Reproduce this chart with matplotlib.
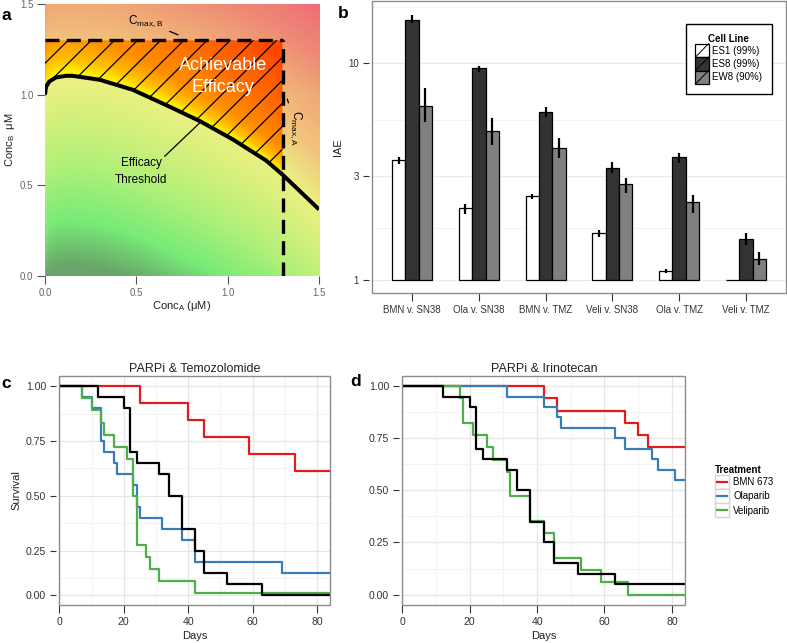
import matplotlib
matplotlib.use("Agg")
import matplotlib.pyplot as plt
import numpy as np
from matplotlib.colors import LinearSegmentedColormap
from matplotlib.legend_handler import HandlerLine2D, HandlerPatch
from matplotlib.lines import Line2D
from matplotlib.patches import Patch, Polygon, Rectangle

plt.rcParams["font.family"] = ["Liberation Sans", "DejaVu Sans"]

# ---- panel a: efficacy schematic ----
THRESH_X = [0.0, 0.005, 0.024, 0.06, 0.115, 0.15, 0.30, 0.48, 0.66, 0.85, 1.03, 1.21, 1.30, 1.50]
THRESH_Y = [1.0, 1.042, 1.073, 1.095, 1.104, 1.104, 1.082, 1.027, 0.944, 0.853, 0.752, 0.637, 0.559, 0.367]
CMAX_A = 1.3
CMAX_B = 1.3
# background colours by distance from the threshold curve
OUTER_LEVELS = [-1.05, -0.8, -0.5, -0.2, 0.0, 0.3, 0.6, 0.9, 1.3]
OUTER_COLORS = ["#69a569", "#78eb78", "#aff078", "#d7f07d", "#ebf082", "#f2c47e", "#f0aa76", "#ee8c76", "#f06e76"]
# saturated colours inside the achievable region
INNER_LEVELS = [0.0, 0.1, 0.25, 0.6, 1.3]
INNER_COLORS = ["#ffff00", "#ffc000", "#ff9000", "#ff7000", "#ff4600"]

# ---- panel b: IAE bars ----
PAIRS = ["BMN v. SN38", "Ola v. SN38", "BMN v. TMZ", "Veli v. SN38", "Ola v. TMZ", "Veli v. TMZ"]
CELL_LINES = ["ES1 (99%)", "ES8 (99%)", "EW8 (90%)"]
CELL_COLORS = ["white", "#333333", "#808080"]
ES1 = [3.59, 2.15, 2.44, 1.64, 1.10, 1.0]
ES1_LO = [3.41, 2.01, 2.36, 1.57, 1.07, np.nan]
ES1_HI = [3.68, 2.23, 2.50, 1.70, 1.12, np.nan]
ES8 = [15.8, 9.48, 5.96, 3.28, 3.68, 1.535]
ES8_LO = [15.3, 9.09, 5.63, 3.10, 3.45, 1.44]
ES8_HI = [16.8, 9.72, 6.31, 3.49, 3.86, 1.64]
EW8 = [6.38, 4.89, 4.05, 2.77, 2.28, 1.25]
EW8_LO = [5.34, 4.21, 3.64, 2.52, 2.04, 1.17]
EW8_HI = [7.69, 5.59, 4.52, 2.94, 2.45, 1.34]

# ---- panels c/d: survival ----
TREATMENTS = ["BMN 673", "Olaparib", "Veliparib"]
TREAT_COLORS = ["#e41a1c", "#377eb8", "#4daf4a"]

CTRL_DAYS = [0, 12, 20, 22, 24, 31, 34, 38, 42, 45, 52, 63, 84]
CTRL_SURV = [1, 0.95, 0.90, 0.70, 0.65, 0.60, 0.50, 0.35, 0.25, 0.15, 0.10, 0.05, 0.05]

TMZ_BMN_DAYS = [0, 25, 40, 45, 59, 73, 84]
TMZ_BMN_SURV = [1, 0.923, 0.846, 0.769, 0.692, 0.615, 0.615]
TMZ_OLA_DAYS = [0, 7, 10, 13, 14, 17, 18, 23, 24, 25, 32, 38, 42, 69, 84]
TMZ_OLA_SURV = [1, 0.95, 0.90, 0.75, 0.70, 0.65, 0.60, 0.55, 0.45, 0.40, 0.35, 0.30, 0.20, 0.15, 0.15]
TMZ_VELI_DAYS = [0, 7, 10, 13, 14, 17, 21, 23, 24, 27, 28, 31, 42, 84]
TMZ_VELI_SURV = [1, 0.944, 0.889, 0.833, 0.778, 0.722, 0.667, 0.5, 0.278, 0.222, 0.167, 0.111, 0.056, 0.056]

IRI_BMN_DAYS = [0, 42, 46, 66, 70, 73, 84]
IRI_BMN_SURV = [1, 0.941, 0.882, 0.824, 0.765, 0.706, 0.706]
IRI_OLA_DAYS = [0, 31, 42, 46, 47, 63, 66, 74, 76, 81, 84]
IRI_OLA_SURV = [1, 0.95, 0.90, 0.85, 0.80, 0.75, 0.70, 0.65, 0.60, 0.55, 0.55]
IRI_VELI_DAYS = [0, 17, 18, 21, 25, 27, 31, 32, 38, 42, 45, 53, 59, 67, 84]
IRI_VELI_SURV = [1, 0.941, 0.824, 0.765, 0.706, 0.647, 0.588, 0.471, 0.353, 0.294, 0.176, 0.118, 0.059, 0.0, 0.0]

DAY_TICKS = [0, 20, 40, 60, 80]
DAY_MINOR = [10, 30, 50, 70]
# the printed panel c labels its lowest tick "0.00" although it sits at the 0.05 level
C_YTICKS = [0.05, 0.25, 0.50, 0.75, 1.00]
D_YTICKS = [0.0, 0.25, 0.50, 0.75, 1.00]
SURV_LABELS = ["0.00", "0.25", "0.50", "0.75", "1.00"]
SURV_MINOR = [0.125, 0.375, 0.625, 0.875]

TEXT = "#333333"
FRAME = "#8c8c8c"


class SlashPatch(HandlerPatch):
    def create_artists(self, legend, orig_handle, xdescent, ydescent, width, height, fontsize, trans):
        box = Rectangle((-xdescent, -ydescent), width, height, facecolor=orig_handle.get_facecolor(),
                        edgecolor="black", lw=0.9, transform=trans)
        slash = Line2D([-xdescent, -xdescent + width], [-ydescent, -ydescent + height],
                       color="black", lw=0.7, transform=trans)
        return [box, slash]


class BoxedLine(HandlerLine2D):
    def create_artists(self, legend, orig_handle, xdescent, ydescent, width, height, fontsize, trans):
        box = Rectangle((-xdescent, -ydescent), width, height, facecolor="white",
                        edgecolor="#d4d4d4", lw=1.0, transform=trans)
        mid = -ydescent + height / 2
        line = Line2D([-xdescent + 0.15 * width, -xdescent + 0.85 * width], [mid, mid],
                      color=orig_handle.get_color(), lw=1.6, transform=trans)
        return [box, line]


def level_cmap(levels, colors):
    levels = np.asarray(levels, dtype=float)
    pos = (levels - levels[0]) / (levels[-1] - levels[0])
    cmap = LinearSegmentedColormap.from_list("lv", list(zip(pos, colors)))
    return lambda v: cmap(np.clip((v - levels[0]) / (levels[-1] - levels[0]), 0, 1))[..., :3]


def ggplot_frame(ax, labelsize=7):
    for spine in ax.spines.values():
        spine.set_color("none")
    ax.spines["left"].set_position(("outward", 2.5))
    ax.add_patch(Rectangle((0, 0), 1, 1, transform=ax.transAxes, fill=False,
                           edgecolor=FRAME, lw=1.0, clip_on=False, zorder=5))
    ax.tick_params(axis="x", which="major", direction="out", length=5.5, width=0.8,
                   color=TEXT, labelsize=labelsize, labelcolor=TEXT, pad=3)
    ax.tick_params(axis="y", which="major", direction="out", length=4.5, width=0.8,
                   color=TEXT, labelsize=labelsize, labelcolor=TEXT, pad=2.5)
    ax.tick_params(which="minor", length=0)
    ax.set_axisbelow(True)


def draw_panel_a(fig):
    ax = fig.add_axes([0.0572, 0.5708, 0.3482, 0.4230])
    grid = np.linspace(0, 1.5, 400)
    X, Y = np.meshgrid(grid, grid)
    dist = Y - np.interp(X, THRESH_X, THRESH_Y)
    outer = level_cmap(OUTER_LEVELS, OUTER_COLORS)(dist + 0.4 * np.clip(Y - 1.0, 0, None))
    inner = level_cmap(INNER_LEVELS, INNER_COLORS)(dist * (1 + 0.8 * X))

    ax.imshow(outer, extent=(0, 1.5, 0, 1.5), origin="lower", aspect="auto", zorder=0)

    tx = np.array(THRESH_X)
    ty = np.array(THRESH_Y)
    keep = tx <= CMAX_A
    verts = list(zip(tx[keep], ty[keep])) + [(CMAX_A, CMAX_B), (0, CMAX_B)]
    region = Polygon(verts, closed=True, facecolor="none", edgecolor="none")
    ax.add_patch(region)
    im = ax.imshow(inner, extent=(0, 1.5, 0, 1.5), origin="lower", aspect="auto", zorder=1)
    im.set_clip_path(region)

    for c in np.arange(1.173, -0.8, -0.1267):
        (ln,) = ax.plot([0, CMAX_A], [c, CMAX_A + c], color="black", lw=0.9, zorder=2)
        ln.set_clip_path(region)

    ax.plot(THRESH_X, THRESH_Y, color="black", lw=2.9, zorder=3, solid_capstyle="butt")
    ax.plot([0, CMAX_A], [CMAX_B, CMAX_B], color="black", lw=2.4, dashes=(4.2, 2.2), zorder=3)
    ax.plot([CMAX_A, CMAX_A], [0, CMAX_B], color="black", lw=2.4, dashes=(4.2, 2.2), zorder=3)

    ax.text(0.975, 1.10, "Achievable\nEfficacy", color="white", fontsize=13,
            ha="center", va="center", linespacing=1.35, zorder=4)
    ax.text(0.527, 0.575, "Efficacy\nThreshold", ha="center", va="center",
            fontsize=8.5, linespacing=1.5, zorder=4)
    ax.annotate("", xy=(0.856, 0.853), xytext=(0.655, 0.66), zorder=4,
                arrowprops=dict(arrowstyle="-", color="black", lw=0.9, shrinkA=0, shrinkB=0))
    ax.annotate(r"C$_\mathregular{max,B}$", xy=(0.728, 1.33), xytext=(0.55, 1.405),
                ha="center", va="center", fontsize=8.5, zorder=4,
                arrowprops=dict(arrowstyle="-", color="black", lw=0.9, shrinkA=3, shrinkB=0))
    ax.annotate(r"C$_\mathregular{max,A}$", xy=(1.326, 0.976), xytext=(1.375, 0.82),
                ha="center", va="center", fontsize=8.5, rotation=-90, zorder=4,
                arrowprops=dict(arrowstyle="-", color="black", lw=0.9, shrinkA=3, shrinkB=0))

    ax.set_xlim(0, 1.5)
    ax.set_ylim(0, 1.5)
    ticks = [0.0, 0.5, 1.0, 1.5]
    ax.set_xticks(ticks, [f"{t:.1f}" for t in ticks])
    ax.set_yticks(ticks, [f"{t:.1f}" for t in ticks])
    for spine in ax.spines.values():
        spine.set_visible(False)
    ax.tick_params(direction="out", length=5.5, width=0.8, color="#555555",
                   labelsize=7, labelcolor="#666666", pad=3)
    ax.set_xlabel(r"Conc$_\mathregular{A}$ (μM)", fontsize=8, color="#222222", labelpad=1)
    ax.set_ylabel(r"Conc$_\mathregular{B}$  μM", fontsize=8, color="#222222", labelpad=2)


def draw_panel_b(fig):
    ax = fig.add_axes([0.4727, 0.5443, 0.5260, 0.4541])
    x = np.arange(len(PAIRS)) + 1
    width = 0.2
    series = [(ES1, ES1_LO, ES1_HI), (ES8, ES8_LO, ES8_HI), (EW8, EW8_LO, EW8_HI)]
    for k, (vals, lo, hi) in enumerate(series):
        xs = x + (k - 1) * width
        ax.bar(xs, np.array(vals) - 1, bottom=1, width=width, color=CELL_COLORS[k],
               edgecolor="black", lw=0.9, zorder=2)
        ax.vlines(xs, lo, hi, color="black", lw=1.6, zorder=3)

    ax.set_yscale("log")
    ax.set_ylim(0.868, 19.4)
    ax.set_xlim(0.4, 6.6)
    ax.set_yticks([1, 3, 10], ["1", "3", "10"])
    ax.set_yticks([3 ** 0.5, 30 ** 0.5, 10 * (10 / 3) ** 0.5], minor=True)
    ax.yaxis.set_minor_formatter(plt.NullFormatter())
    ax.set_xticks(x, PAIRS)
    ggplot_frame(ax)
    ax.grid(axis="y", which="major", color="#ebebeb", lw=0.9)
    ax.grid(axis="y", which="minor", color="#f4f4f4", lw=0.7)
    ax.set_ylabel("IAE", fontsize=8, color="#222222", labelpad=4)

    handles = [Patch(facecolor=c, label=l) for c, l in zip(CELL_COLORS, CELL_LINES)]
    leg = ax.legend(handles=handles, title="Cell Line", loc="upper left",
                    bbox_to_anchor=(0.746, 0.938), fontsize=7, title_fontsize=7,
                    handler_map={Patch: SlashPatch()}, handlelength=1.35, handleheight=1.75,
                    labelspacing=0.0, handletextpad=0.4, borderpad=1.0, fancybox=False,
                    framealpha=1, edgecolor="black")
    leg.get_frame().set_linewidth(1.0)
    leg.get_title().set_fontweight("bold")
    leg.set_zorder(6)


def draw_survival(ax, curves, yticks, ylim, title):
    for days, surv, color in curves:
        ax.step(days, surv, where="post", color=color, lw=1.6, zorder=3)
    ax.step(CTRL_DAYS, CTRL_SURV, where="post", color="black", lw=1.6, zorder=4)
    ax.set_xlim(0, 84)
    ax.set_ylim(*ylim)
    ax.set_xticks(DAY_TICKS)
    ax.set_xticks(DAY_MINOR, minor=True)
    ax.set_yticks(yticks, SURV_LABELS)
    ax.set_yticks(SURV_MINOR, minor=True)
    ggplot_frame(ax, labelsize=7.6)
    ax.grid(which="major", color="#e6e6e6", lw=0.9)
    ax.grid(which="minor", color="#f3f3f3", lw=0.7)
    ax.set_title(title, fontsize=9, color="#222222", pad=3)
    ax.set_xlabel("Days", fontsize=8, color="#222222", labelpad=3)


def main():
    fig = plt.figure(figsize=(7.87, 6.43), dpi=100)

    draw_panel_a(fig)
    draw_panel_b(fig)

    ax_c = fig.add_axes([0.0754, 0.0591, 0.3440, 0.3566])
    draw_survival(ax_c, [(TMZ_BMN_DAYS, TMZ_BMN_SURV, TREAT_COLORS[0]),
                         (TMZ_OLA_DAYS, TMZ_OLA_SURV, TREAT_COLORS[1]),
                         (TMZ_VELI_DAYS, TMZ_VELI_SURV, TREAT_COLORS[2])],
                  C_YTICKS, (0.0025, 1.0475), "PARPi & Temozolomide")
    ax_c.set_ylabel("Survival", fontsize=8, color="#222222", labelpad=3)

    ax_d = fig.add_axes([0.5112, 0.0591, 0.3596, 0.3566])
    draw_survival(ax_d, [(IRI_BMN_DAYS, IRI_BMN_SURV, TREAT_COLORS[0]),
                         (IRI_OLA_DAYS, IRI_OLA_SURV, TREAT_COLORS[1]),
                         (IRI_VELI_DAYS, IRI_VELI_SURV, TREAT_COLORS[2])],
                  D_YTICKS, (-0.05, 1.05), "PARPi & Irinotecan")

    handles = [Line2D([], [], color=c) for c in TREAT_COLORS]
    leg = fig.legend(handles, TREATMENTS, title="Treatment", loc="upper left",
                     bbox_to_anchor=(0.902, 0.284), frameon=False, fontsize=7,
                     title_fontsize=7, handler_map={Line2D: BoxedLine()},
                     handlelength=1.45, handleheight=1.85, labelspacing=0.0,
                     handletextpad=0.45, borderpad=0, alignment="left")
    leg.get_title().set_fontweight("bold")

    for letter, x, y in [("a", 2, 15), ("b", 338, 13), ("c", 1, 383), ("d", 350, 382)]:
        fig.text(x / 787, 1 - y / 643, letter, fontsize=12.5, fontweight="bold",
                 ha="left", va="center")

    fig.savefig("out.png", dpi=100)


if __name__ == "__main__":
    main()
